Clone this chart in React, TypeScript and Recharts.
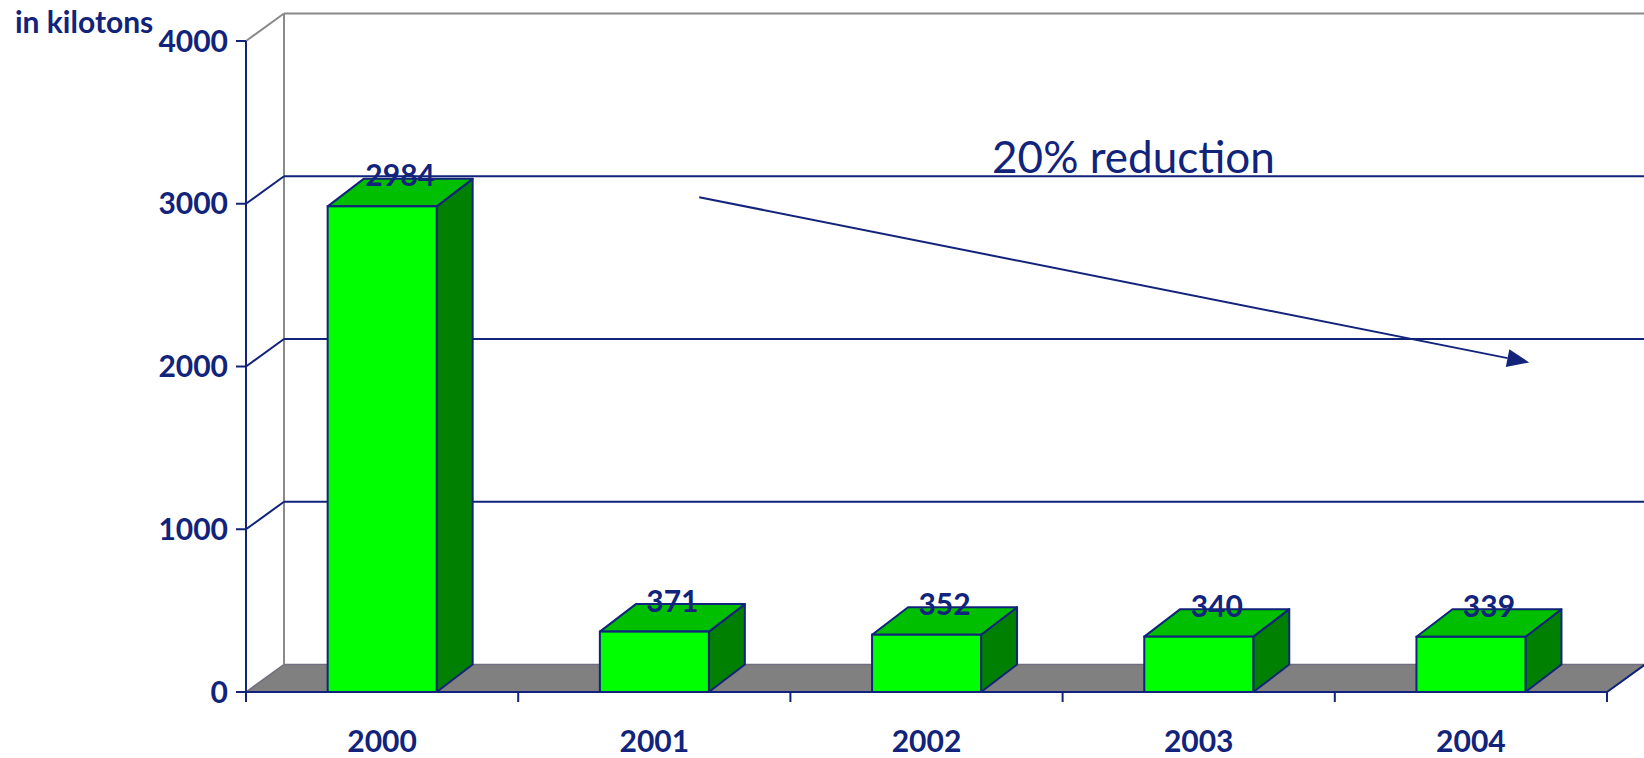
import React from 'react';
import { BarChart, Bar, XAxis, YAxis, ReferenceLine, ReferenceArea, ReferenceDot, Customized } from 'recharts';

// ---- data ----
const years = ['2000', '2001', '2002', '2003', '2004'];
const emissions = [2984, 371, 352, 340, 339];
const yTicks = [0, 1000, 2000, 3000, 4000];
const gridLevels = [1000, 2000, 3000];
const unitLabel = 'in kilotons';
const trendLabel = '20% reduction';
// annotation positions: [category units from left edge, kilotons]
const trendFrom = [1.665, 3040];
const trendTo = [4.714, 2025];
const trendTextAt = [2.741, 3191];

// pos = centre of each category measured in category units (for the annotation axis)
const data = years.map((year, i) => ({ year, value: emissions[i], pos: i + 0.5 }));

// ---- styles ----
const NAVY = '#11237a';
const GRAY_LINE = '#8a8a8a';
const DX = 38;
const DY = 27.5;
const BDX = 36;
const BDY = 27.5;
const BOLD = { fontFamily: 'Lato, "Open Sans", sans-serif', fontWeight: 700, fontSize: 30, fill: NAVY };

const Walls = (p: any) => {
  const { x, y, width, height } = p;
  const b = y + height;
  return (
    <g>
      <polygon
        points={`${x},${b} ${x + DX},${b - DY} ${x + width + DX},${b - DY} ${x + width},${b}`}
        fill="#808080"
        stroke="#6f6f80"
        strokeWidth={1.5}
      />
      <line x1={x + DX} y1={y - DY} x2={x + DX} y2={b - DY} stroke={GRAY_LINE} strokeWidth={2} />
      <line x1={x + DX} y1={y - DY} x2={x + width + DX} y2={y - DY} stroke={GRAY_LINE} strokeWidth={2} />
      <line x1={x} y1={y} x2={x + DX} y2={y - DY} stroke={GRAY_LINE} strokeWidth={2} />
      <line x1={x + width} y1={b} x2={x + width + DX} y2={b - DY} stroke={NAVY} strokeWidth={2} />
    </g>
  );
};

const BackGrid = (p: any) => {
  const { x1, y1, x2 } = p;
  return (
    <g>
      <line x1={x1} y1={y1} x2={x1 + DX} y2={y1 - DY} stroke={NAVY} strokeWidth={2} />
      <line x1={x1 + DX} y1={y1 - DY} x2={x2 + DX} y2={y1 - DY} stroke={NAVY} strokeWidth={2} />
    </g>
  );
};

const Box3D = (props: any) => {
  const { x, y, width, height, payload } = props;
  const b = y + height;
  const top = `${x},${y} ${x + BDX},${y - BDY} ${x + width + BDX},${y - BDY} ${x + width},${y}`;
  const side = `${x + width},${y} ${x + width + BDX},${y - BDY} ${x + width + BDX},${b - BDY} ${x + width},${b}`;
  return (
    <g>
      <polygon points={side} fill="#008000" stroke={NAVY} strokeWidth={2} strokeLinejoin="round" />
      <polygon points={top} fill="#00bf00" stroke={NAVY} strokeWidth={2} strokeLinejoin="round" />
      <rect x={x} y={y} width={width} height={height} fill="#00ff00" stroke={NAVY} strokeWidth={2} />
      <text x={x + width / 2 + BDX / 2} y={y - 20} textAnchor="middle" {...BOLD}>
        {payload.value}
      </text>
    </g>
  );
};

const YearTick = (p: any) => {
  const { x, y, payload, index, visibleTicksCount } = p;
  const half = payload.offset ?? 136;
  const last = index === (visibleTicksCount ?? years.length) - 1;
  return (
    <g>
      <line x1={x - half} y1={y} x2={x - half} y2={y + 10} stroke={NAVY} strokeWidth={2} />
      {last && <line x1={x + half} y1={y} x2={x + half} y2={y + 10} stroke={NAVY} strokeWidth={2} />}
      <text x={x} y={y + 60} textAnchor="middle" {...BOLD}>
        {payload.value}
      </text>
    </g>
  );
};

const Arrow = (p: any) => {
  const { x1, y1, x2, y2 } = p;
  const len = Math.hypot(x2 - x1, y2 - y1);
  const ux = (x2 - x1) / len;
  const uy = (y2 - y1) / len;
  const hl = 22;
  const hw = 9;
  const bx = x2 - ux * hl;
  const by = y2 - uy * hl;
  return (
    <g>
      <line x1={x1} y1={y1} x2={bx} y2={by} stroke={NAVY} strokeWidth={2} />
      <polygon
        points={`${x2},${y2} ${bx - uy * hw},${by + ux * hw} ${bx + uy * hw},${by - ux * hw}`}
        fill={NAVY}
      />
    </g>
  );
};

const TrendText = (p: any) => (
  <text x={p.cx} y={p.cy} fill={NAVY} fontFamily='Lato, "Open Sans", sans-serif' fontSize={44}>
    {trendLabel}
  </text>
);

const UnitText = () => (
  <text x={15} y={33} {...BOLD}>
    {unitLabel}
  </text>
);

export default function App() {
  return (
    <div style={{ position: 'absolute', left: 0, top: 0, width: 1644, height: 758, background: '#fff' }}>
      <BarChart width={1644} height={758} data={data} margin={{ top: 41, right: 37, left: 0, bottom: 0 }} barCategoryGap="30%">
        <ReferenceArea y1={0} y2={4000} shape={Walls} zIndex={-300} />
        {gridLevels.map((v) => (
          <ReferenceLine key={v} y={v} shape={BackGrid} zIndex={-200} />
        ))}
        <XAxis
          dataKey="year"
          interval={0}
          axisLine={{ stroke: NAVY, strokeWidth: 2 }}
          tickLine={false}
          tickSize={0}
          tickMargin={0}
          height={66}
          tick={<YearTick />}
        />
        <XAxis xAxisId="pos" dataKey="pos" type="number" domain={[0, 5]} allowDataOverflow hide />
        <YAxis
          domain={[0, 4000]}
          ticks={yTicks}
          interval={0}
          width={246}
          axisLine={{ stroke: NAVY, strokeWidth: 2 }}
          tickLine={{ stroke: NAVY, strokeWidth: 2 }}
          tickSize={10}
          tickMargin={8}
          tick={BOLD}
        />
        <Bar dataKey="value" isAnimationActive={false} shape={<Box3D />} />
        <ReferenceLine
          xAxisId="pos"
          segment={[
            { x: trendFrom[0], y: trendFrom[1] },
            { x: trendTo[0], y: trendTo[1] },
          ]}
          shape={Arrow}
        />
        <ReferenceDot xAxisId="pos" x={trendTextAt[0]} y={trendTextAt[1]} shape={TrendText} />
        <Customized component={UnitText} />
      </BarChart>
    </div>
  );
}
